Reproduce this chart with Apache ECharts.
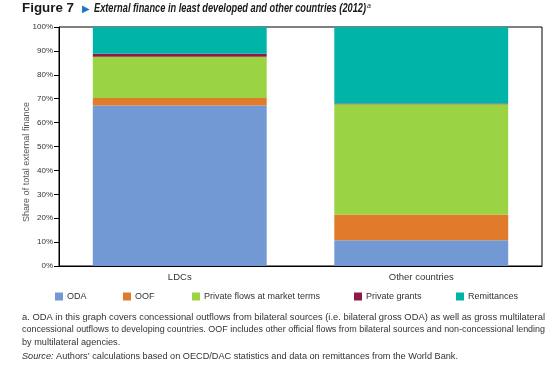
<!DOCTYPE html>
<html>
<head>
<meta charset="utf-8">
<script src="https://cdn.jsdelivr.net/npm/echarts@6/dist/echarts.min.js"></script>
<style>
html,body{margin:0;padding:0;background:#fff;}
#c{width:551px;height:367px;}
</style>
</head>
<body>
<div id="c"></div>
<script>
const categories = ['LDCs', 'Other countries'];
const seriesNames = ['ODA', 'OOF', 'Private flows at market terms', 'Private grants', 'Remittances'];
const oda = [67.2, 10.8];
const oof = [3.1, 10.7];
const privateMarket = [17.3, 46.2];
const privateGrants = [1.2, 0.3];
const remittances = [11.2, 32.0];
const yTicks = [0, 10, 20, 30, 40, 50, 60, 70, 80, 90, 100];
const colors = ['#7399d4', '#e07b2c', '#9bd442', '#8e1a4a', '#00b4a8'];
const legendLeft = [55, 123, 192, 354, 456];

const titleFig = 'Figure 7';
const titleMain = 'External finance in least developed and other countries (2012)';
const note1 = 'a. ODA in this graph covers concessional outflows from bilateral sources (i.e. bilateral gross ODA) as well as gross multilateral';
const note2 = 'concessional outflows to developing countries. OOF includes other official flows from bilateral sources and non-concessional lending';
const note3 = 'by multilateral agencies.';
const sourceLabel = 'Source:';
const source = 'Authors\u2019 calculations based on OECD/DAC statistics and data on remittances from the World Bank.';
const yName = 'Share of total external finance';

const FONT = '"Liberation Sans", Arial, sans-serif';
const ctx = document.createElement('canvas').getContext('2d');
function width(text, size, pre) {
  ctx.font = (pre || '') + ' ' + size + 'px ' + FONT;
  return ctx.measureText(text).width;
}
// horizontal scale (condensed look) so that text spans the reference width
const sFig = 52 / width(titleFig, 12, 'bold');
const sTitle = 272 / width(titleMain, 12, 'italic bold');
const sN1 = 523 / width(note1, 9);
const sN2 = 523 / width(note2, 9);
const sNote = (sN1 + sN2) / 2;
const sY = 120 / width(yName, 9.5);

const values = [oda, oof, privateMarket, privateGrants, remittances];

const chart = echarts.init(document.getElementById('c'));
chart.setOption({
  animation: false,
  textStyle: { fontFamily: FONT },
  color: colors,
  grid: { left: 59, top: 27, right: 9, bottom: 101, show: true, borderColor: '#000', borderWidth: 1 },
  xAxis: {
    type: 'category',
    data: categories,
    axisLine: { lineStyle: { color: '#000', width: 1 } },
    axisTick: { show: false },
    axisLabel: { color: '#333', fontSize: 9.5, margin: 6, fontFamily: FONT }
  },
  yAxis: {
    type: 'value',
    min: yTicks[0], max: yTicks[yTicks.length - 1], interval: 10,
    axisLine: { show: true, lineStyle: { color: '#000', width: 1 } },
    axisTick: { show: true, length: 5, lineStyle: { color: '#000' } },
    splitLine: { show: false },
    axisLabel: { color: '#333', fontSize: 8, margin: 6, fontFamily: FONT, formatter: v => v + '%' }
  },
  legend: seriesNames.map((n, i) => ({
    left: legendLeft[i], top: 292, padding: 0,
    itemWidth: 8, itemHeight: 8, itemGap: 4,
    icon: 'rect', selectedMode: false,
    textStyle: { color: '#333', fontSize: 9, fontFamily: FONT, padding: [0, 0, 0, -1] },
    data: [n]
  })),
  series: seriesNames.map((n, i) => ({
    name: n, type: 'bar', stack: 'total', barWidth: '72%',
    data: values[i],
    itemStyle: { color: colors[i] }
  })),
  graphic: [
    {
      type: 'text', x: 22, y: 3, scaleX: sFig,
      style: { text: titleFig, fill: '#1a1a1a', fontSize: 12, fontWeight: 'bold', fontFamily: FONT }
    },
    {
      type: 'text', x: 82, y: 4,
      style: { text: '\u25B6', fill: '#1f74c8', fontSize: 10, fontFamily: 'DejaVu Sans' }
    },
    {
      type: 'text', x: 94, y: 3, scaleX: sTitle,
      style: { text: titleMain, fill: '#1a1a1a', fontSize: 12, fontWeight: 'bold', fontStyle: 'italic', fontFamily: FONT }
    },
    {
      type: 'text', x: 367, y: 3,
      style: { text: 'a', fill: '#1a1a1a', fontSize: 7, fontStyle: 'italic', fontFamily: FONT }
    },
    {
      type: 'text', x: 26, y: 162, rotation: Math.PI / 2, scaleX: sY,
      style: { text: yName, fill: '#555', fontSize: 9.5, fontFamily: FONT, align: 'center', verticalAlign: 'middle' }
    },
    {
      type: 'text', x: 22, y: 313, scaleX: sN1,
      style: { text: note1, fill: '#333', fontSize: 9, fontFamily: FONT }
    },
    {
      type: 'text', x: 22, y: 325.5, scaleX: sN2,
      style: { text: note2, fill: '#333', fontSize: 9, fontFamily: FONT }
    },
    {
      type: 'text', x: 22, y: 338, scaleX: sNote,
      style: { text: note3, fill: '#333', fontSize: 9, fontFamily: FONT }
    },
    {
      type: 'text', x: 22, y: 352, scaleX: sNote,
      style: { text: '{i|' + sourceLabel + '} ' + source, fill: '#333', fontSize: 9, fontFamily: FONT,
        rich: { i: { fontStyle: 'italic', fill: '#333', fontSize: 9, fontFamily: FONT } } }
    }
  ]
});
</script>
</body>
</html>
